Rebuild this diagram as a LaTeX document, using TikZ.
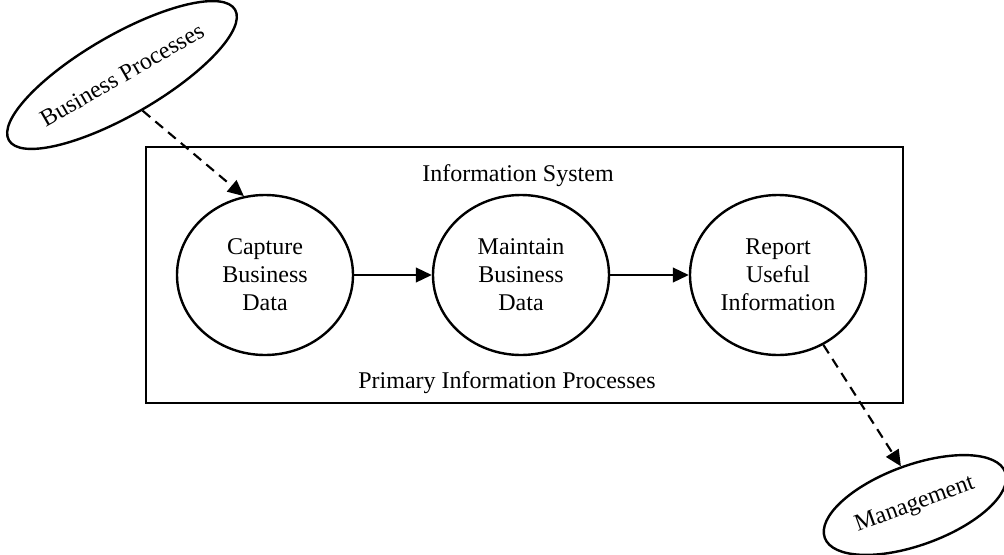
\documentclass[tikz,border=0pt]{standalone}
\usepackage{fontspec}
\setmainfont{Liberation Serif}
\usetikzlibrary{shapes.geometric,arrows.meta}
\begin{document}
\begin{tikzpicture}[x=0.75pt,y=-0.75pt,
  every node/.style={font=\fontsize{18pt}{21pt}\selectfont},
  proc/.style={draw,ellipse,line width=1.8pt,inner sep=0pt,minimum width=132pt,minimum height=120pt,align=center},
  ext/.style={draw,ellipse,line width=1.8pt,inner sep=0pt},
  flow/.style={line width=1.6pt,-{Triangle[length=12pt,width=11pt]}},
  dflow/.style={flow,dash pattern=on 7.5pt off 5pt}]
\useasboundingbox (0,0) rectangle (1004,554);
\node[draw,line width=1.8pt,minimum width=567.75pt,minimum height=192pt,inner sep=0pt] (sys) at (524.5,275) {};
\node[anchor=base] (title) at (518,181) {Information System};
\node[anchor=base] (sub) at (507,388) {Primary Information Processes};
\node[proc] (cap) at (265,275) {Capture\\Business\\Data};
\node[proc] (mnt) at (521,275) {Maintain\\Business\\Data};
\node[proc] (rep) at (778,275) {Report\\Useful\\Information};
\node[ext,rotate=30,minimum width=171pt,minimum height=60pt] (bp) at (122,75) {Business Processes};
\node[ext,rotate=20,minimum width=144pt,minimum height=60pt] (mgmt) at (915,505) {Management};
\draw[flow] (cap) -- (mnt);
\draw[flow] (mnt) -- (rep);
\draw[dflow] (bp.south) -- (cap.105);
\draw[dflow] (rep.-57) -- (mgmt.north);
\end{tikzpicture}
\end{document}
